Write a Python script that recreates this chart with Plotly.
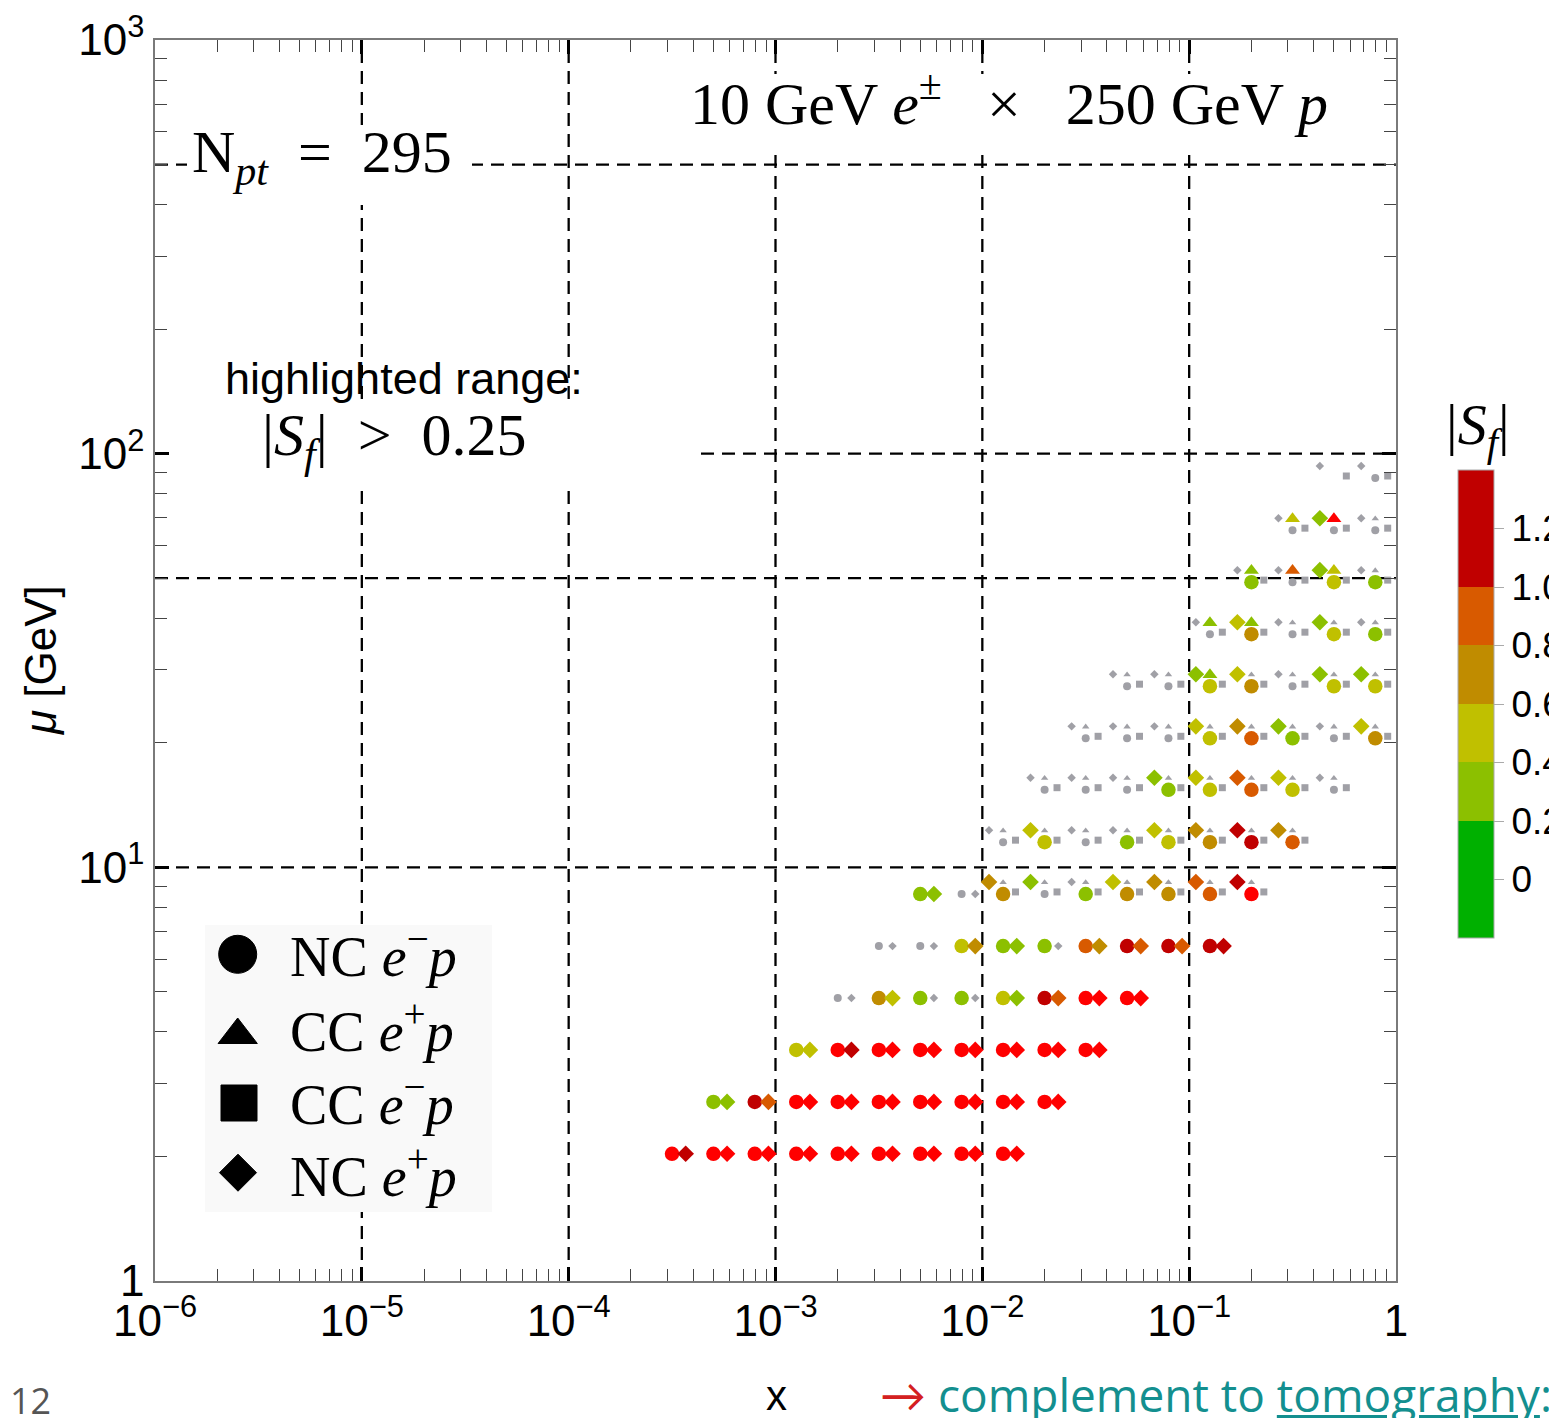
import numpy as np
import plotly.graph_objects as go

# ---------------- data (bin centres, |S_f|) ----------------
# NC e^- p  (circles)
nc_em_x = [
    3.16e-4, 5.01e-4, 7.94e-4, 1.26e-3, 2.00e-3, 3.16e-3, 5.01e-3, 7.94e-3, 1.26e-2,
    5.01e-4, 7.94e-4, 1.26e-3, 2.00e-3, 3.16e-3, 5.01e-3, 7.94e-3, 1.26e-2, 2.00e-2,
    1.26e-3, 2.00e-3, 3.16e-3, 5.01e-3, 7.94e-3, 1.26e-2, 2.00e-2, 3.16e-2,
    2.00e-3, 3.16e-3, 5.01e-3, 7.94e-3, 1.26e-2, 2.00e-2, 3.16e-2, 5.01e-2,
    3.16e-3, 5.01e-3, 7.94e-3, 1.26e-2, 2.00e-2, 3.16e-2, 5.01e-2, 7.94e-2, 0.126,
    5.01e-3, 7.94e-3, 1.26e-2, 2.00e-2, 3.16e-2, 5.01e-2, 7.94e-2, 0.126, 0.200,
    1.26e-2, 2.00e-2, 3.16e-2, 5.01e-2, 7.94e-2, 0.126, 0.200, 0.316,
    2.00e-2, 3.16e-2, 5.01e-2, 7.94e-2, 0.126, 0.200, 0.316, 0.501,
    3.16e-2, 5.01e-2, 7.94e-2, 0.126, 0.200, 0.316, 0.501, 0.794,
    5.01e-2, 7.94e-2, 0.126, 0.200, 0.316, 0.501, 0.794,
    0.126, 0.200, 0.316, 0.501, 0.794,
    0.200, 0.316, 0.501, 0.794,
    0.316, 0.501, 0.794,
    0.794,
]
nc_em_mu = (
    [2.03] * 9 + [2.71] * 9 + [3.62] * 8 + [4.83] * 8 + [6.45] * 9 + [8.62] * 9
    + [11.5] * 8 + [15.4] * 8 + [20.5] * 8 + [27.4] * 7 + [36.6] * 5 + [48.9] * 4
    + [65.3] * 3 + [87.3] * 1
)
nc_em_s = [
    1.6, 1.6, 1.6, 1.6, 1.6, 1.6, 1.6, 1.6, 1.6,
    0.32, 1.2, 1.6, 1.6, 1.6, 1.6, 1.6, 1.6, 1.6,
    0.5, 1.6, 1.6, 1.6, 1.6, 1.6, 1.6, 1.6,
    0.1, 0.7, 0.32, 0.32, 0.5, 1.2, 1.6, 1.6,
    0.1, 0.1, 0.5, 0.32, 0.32, 0.9, 1.2, 1.2, 1.2,
    0.32, 0.1, 0.7, 0.1, 0.32, 0.7, 0.7, 0.9, 1.6,
    0.1, 0.5, 0.1, 0.32, 0.5, 0.7, 1.2, 0.9,
    0.1, 0.1, 0.1, 0.32, 0.5, 0.9, 0.5, 0.1,
    0.1, 0.1, 0.1, 0.5, 0.9, 0.32, 0.1, 0.7,
    0.1, 0.1, 0.5, 0.7, 0.1, 0.5, 0.5,
    0.1, 0.7, 0.1, 0.5, 0.32,
    0.32, 0.1, 0.5, 0.32,
    0.1, 0.1, 0.1,
    0.1,
]

# NC e^+ p  (diamonds)
nc_ep_x = nc_em_x[:-1] + [0.501, 0.794]
nc_ep_mu = nc_em_mu[:-1] + [87.3, 87.3]
nc_ep_s = [
    1.2, 1.6, 1.6, 1.6, 1.6, 1.6, 1.6, 1.6, 1.6,
    0.32, 0.9, 1.6, 1.6, 1.6, 1.6, 1.6, 1.6, 1.6,
    0.5, 1.2, 1.6, 1.6, 1.6, 1.6, 1.6, 1.6,
    0.1, 0.5, 0.1, 0.1, 0.32, 0.9, 1.6, 1.6,
    0.1, 0.1, 0.7, 0.32, 0.1, 0.7, 0.9, 0.9, 1.2,
    0.32, 0.1, 0.7, 0.32, 0.1, 0.5, 0.7, 0.9, 1.2,
    0.1, 0.5, 0.1, 0.1, 0.5, 0.7, 1.2, 0.7,
    0.1, 0.1, 0.1, 0.32, 0.5, 0.9, 0.5, 0.1,
    0.1, 0.1, 0.1, 0.5, 0.7, 0.32, 0.1, 0.5,
    0.1, 0.1, 0.32, 0.5, 0.1, 0.32, 0.32,
    0.1, 0.5, 0.1, 0.32, 0.1,
    0.1, 0.1, 0.32, 0.1,
    0.1, 0.32, 0.1,
    0.1, 0.1,
]

# CC e^+ p  (triangles)
cc_ep_x = [
    1.26e-2, 2.00e-2, 3.16e-2, 5.01e-2, 7.94e-2, 0.126, 0.200,
    1.26e-2, 2.00e-2, 3.16e-2, 5.01e-2, 7.94e-2, 0.126, 0.200, 0.316,
    2.00e-2, 3.16e-2, 5.01e-2, 7.94e-2, 0.126, 0.200, 0.316, 0.501,
    3.16e-2, 5.01e-2, 7.94e-2, 0.126, 0.200, 0.316, 0.501, 0.794,
    5.01e-2, 7.94e-2, 0.126, 0.200, 0.316, 0.501, 0.794,
    0.126, 0.200, 0.316, 0.501, 0.794,
    0.200, 0.316, 0.501, 0.794,
    0.316, 0.501, 0.794,
]
cc_ep_mu = (
    [8.62] * 7 + [11.5] * 8 + [15.4] * 8 + [20.5] * 8 + [27.4] * 7
    + [36.6] * 5 + [48.9] * 4 + [65.3] * 3
)
cc_ep_s = [
    0.1, 0.1, 0.1, 0.1, 0.1, 0.1, 0.1,
    0.1, 0.1, 0.1, 0.1, 0.1, 0.1, 0.1, 0.1,
    0.1, 0.1, 0.1, 0.1, 0.1, 0.1, 0.1, 0.1,
    0.1, 0.1, 0.1, 0.1, 0.1, 0.1, 0.1, 0.1,
    0.1, 0.1, 0.32, 0.1, 0.1, 0.1, 0.1,
    0.32, 0.32, 0.1, 0.1, 0.1,
    0.32, 0.9, 0.5, 0.1,
    0.5, 1.6, 0.1,
]

# CC e^- p  (squares)
cc_em_x = cc_ep_x + [0.501, 0.794]
cc_em_mu = cc_ep_mu + [87.3, 87.3]
cc_em_s = [0.1] * 52

x_tick_labels = ["10<sup>−6</sup>", "10<sup>−5</sup>", "10<sup>−4</sup>",
                 "10<sup>−3</sup>", "10<sup>−2</sup>", "10<sup>−1</sup>", "1"]
y_tick_labels = ["1", "10<sup>1</sup>", "10<sup>2</sup>", "10<sup>3</sup>"]
cbar_vals = [0, 0.2, 0.4, 0.6, 0.8, 1.0, 1.2]
cbar_text = ["0", "0.2", "0.4", "0.6", "0.8", "1.0", "1.2"]

# ---------------- styling ----------------
SERIF = "Liberation Serif, DejaVu Serif, serif"
SANS = "Liberation Sans, Arial, sans-serif"
SLIDE = "Open Sans, Lato, sans-serif"
GRAY = "#a0a0a6"
OVER = "#ff0000"
THRESH, SMIN, SMAX = 0.25, -0.2, 1.4
CS = [[0, "#00b000"], [0.25, "#00b000"], [0.25, "#8cc000"], [0.375, "#8cc000"],
      [0.375, "#c0c000"], [0.5, "#c0c000"], [0.5, "#c08c00"], [0.625, "#c08c00"],
      [0.625, "#d85a00"], [0.75, "#d85a00"], [0.75, "#c00000"], [1, "#c00000"]]

PAGE_OFF = 8                      # default body margin of the html page
L, R, T, B = 155, 1396, 40, 1281  # plot area in window pixels
W, H = R - L, B - T
def px(v): return (v - L) / W
def py(v): return (B - v) / H
def dx(v): return 10 ** (-6 + 6 * (v - L) / W)   # window px -> data x
def dy(v): return 10 ** (3 * (B - v) / H)        # window px -> data mu

# display offsets of the markers around a bin centre (in decades): (pair layout, cluster layout)
OFFSETS = {
    "nc_em": ((0.0, 0.0), (0.0, 0.0)),
    "nc_ep": ((0.066, 0.0), (-0.068, 0.029)),
    "cc_ep": ((0.0, 0.028), (0.0, 0.028)),
    "cc_em": ((0.06, 0.005), (0.06, 0.005)),
}
cc_keys = set()
for xs, ms in ((cc_ep_x, cc_ep_mu), (cc_em_x, cc_em_mu)):
    for a, b in zip(xs, ms):
        cc_keys.add((round(np.log10(a), 2), round(np.log10(b), 2)))

def place(key, xs, ms):
    ox, om = [], []
    for a, b in zip(xs, ms):
        cl = (round(np.log10(a), 2), round(np.log10(b), 2)) in cc_keys
        ddx, ddm = OFFSETS[key][1 if cl else 0]
        ox.append(a * 10 ** ddx)
        om.append(b * 10 ** ddm)
    return np.array(ox), np.array(om)

procs = [  # key, symbol, x, mu, S, gray size, highlighted size
    ("cc_ep", "triangle-up", cc_ep_x, cc_ep_mu, cc_ep_s, 6.5, 13),
    ("cc_em", "square", cc_em_x, cc_em_mu, cc_em_s, 7, 12),
    ("nc_em", "circle", nc_em_x, nc_em_mu, nc_em_s, 8, 14.5),
    ("nc_ep", "diamond", nc_ep_x, nc_ep_mu, nc_ep_s, 6.5, 12.8),
]

fig = go.Figure()
placed = {}
for key, sym, xs, ms, ss, gs, hs in procs:
    ox, om = place(key, xs, ms)
    s = np.abs(np.array(ss))
    placed[key] = (ox, om, s)
    g = s <= THRESH
    fig.add_trace(go.Scatter(x=ox[g], y=om[g], mode="markers", showlegend=False,
                             hoverinfo="skip",
                             marker=dict(symbol=sym, size=gs, color=GRAY, line_width=0)))

for key, sym, xs, ms, ss, gs, hs in procs:
    ox, om, s = placed[key]
    h = (s > THRESH) & (s <= SMAX)
    fig.add_trace(go.Scatter(
        x=ox[h], y=om[h], mode="markers", showlegend=False,
        marker=dict(symbol=sym, size=hs, color=s[h], colorscale=CS, cmin=SMIN, cmax=SMAX,
                    line_width=0, showscale=(key == "nc_em"),
                    colorbar=dict(x=px(1458), xanchor="left", y=py(704), yanchor="middle",
                                  len=468, lenmode="pixels", thickness=36,
                                  thicknessmode="pixels", xpad=0, ypad=0,
                                  outlinewidth=1, outlinecolor="#aaaaaa",
                                  tickmode="array", tickvals=cbar_vals, ticktext=cbar_text,
                                  ticks="outside", ticklen=10, tickcolor="#aaaaaa",
                                  tickfont=dict(family=SANS, size=37, color="black")))))
    o = s > SMAX
    fig.add_trace(go.Scatter(x=ox[o], y=om[o], mode="markers", showlegend=False,
                             marker=dict(symbol=sym, size=hs, color=OVER, line_width=0)))

# legend glyphs on an overlay axis (fractions of plot area)
leg_syms = ["circle", "triangle-up", "square", "diamond"]
leg_px = [(237.7, 954.3), (237.7, 1035), (239, 1103), (238, 1172.7)]
fig.add_trace(go.Scatter(x=[px(a) for a, b in leg_px], y=[py(b) for a, b in leg_px],
                         xaxis="x2", yaxis="y2", mode="markers", showlegend=False,
                         hoverinfo="skip", opacity=1,
                         marker=dict(symbol=leg_syms, size=[38, 34, 36, 28.5], opacity=1,
                                     color="#000000",
                                     line=dict(width=1, color="#000000"))))

# ticks
maj_x = [10.0 ** k for k in range(-6, 1)]
min_x = [m * 10.0 ** k for k in range(-6, 0) for m in range(2, 10)]
maj_y = [10.0 ** k for k in range(0, 4)]
min_y = [m * 10.0 ** k for k in range(0, 3) for m in range(2, 10)]

axis_common = dict(type="log", showgrid=False, zeroline=False, showline=True,
                   linecolor="#7a7a7a", linewidth=1.5, mirror="ticks", ticks="inside",
                   ticklen=14, tickwidth=2.5, tickcolor="black",
                   tickfont=dict(family=SANS, size=44, color="black"))
FIG_W, FIG_H = 1557 - PAGE_OFF, 1418 - PAGE_OFF
fig.update_layout(
    width=FIG_W, height=FIG_H,
    margin=dict(l=L - PAGE_OFF, r=FIG_W + PAGE_OFF - R, t=T - PAGE_OFF,
                b=FIG_H + PAGE_OFF - B, autoexpand=False),
    paper_bgcolor="white", plot_bgcolor="white",
    xaxis=dict(range=[-6, 0], tickmode="array", tickvals=maj_x, ticktext=x_tick_labels,
               minor=dict(tickmode="array", tickvals=min_x, ticks="inside", ticklen=12,
                          tickwidth=1, tickcolor="#444"),
               **axis_common),
    yaxis=dict(range=[0, 3], tickmode="array", tickvals=maj_y, ticktext=y_tick_labels,
               minor=dict(tickmode="array", tickvals=min_y, ticks="inside", ticklen=12,
                          tickwidth=1, tickcolor="#444"),
               **axis_common),
    xaxis2=dict(overlaying="x", anchor="y2", range=[0, 1], visible=False, fixedrange=True),
    yaxis2=dict(overlaying="y", anchor="x2", range=[0, 1], visible=False, fixedrange=True),
)

# dashed reference lines
shapes = []
DASH = dict(color="black", width=2.3, dash="13px,8px")
for xv in [1e-5, 1e-4, 1e-3, 1e-2, 1e-1]:
    shapes.append(dict(type="line", xref="x", yref="y", x0=xv, x1=xv, y0=1, y1=1000,
                       line=DASH, layer="below"))
for yv in [10, 50, 100, 500]:
    shapes.append(dict(type="line", xref="x", yref="y", x0=1e-6, x1=1, y0=yv, y1=yv,
                       line=DASH, layer="below"))
# white boxes behind texts and the legend panel (same layer as the dashed lines)
for (x0, x1, y0, y1, col) in [(187, 472, 125, 205, "white"), (685, 1360, 74, 150, "white"),
                              (156.5, 695, 403, 483, "white"), (205, 492, 925, 1212, "#f9f9f9")]:
    shapes.append(dict(type="rect", xref="x", yref="y", x0=dx(x0), x1=dx(x1),
                       y0=dy(y1), y1=dy(y0), fillcolor=col, line_width=0, layer="below"))
fig.update_layout(shapes=shapes)

ann = []
def add_text(text, x, y, family, size, xanchor="left", color="black", angle=0):
    ann.append(dict(text=text, x=px(x), y=py(y), xref="paper", yref="paper",
                    xanchor=xanchor, yanchor="middle", showarrow=False, textangle=angle,
                    font=dict(family=family, size=size, color=color)))

add_text("10 GeV <i>e</i><sup>±</sup>\u2002 ×\u2002 250 GeV <i>p</i>", 688, 100, SERIF, 60)
add_text("N<sub><i>pt</i></sub>\u2002=\u2002295", 190, 156, SERIF, 60)
add_text("highlighted range:", 223, 378, SANS, 45)
add_text("|<i>S<sub>f</sub></i>|\u2002>\u20020.25", 260, 440, SERIF, 60)
leg_txt = ["NC\u2005<i>e</i><sup>−</sup><i>p</i>", "CC\u2005<i>e</i><sup>+</sup><i>p</i>",
           "CC\u2005<i>e</i><sup>−</sup><i>p</i>", "NC\u2005<i>e</i><sup>+</sup><i>p</i>"]
for t, yy in zip(leg_txt, [952, 1027, 1100, 1172]):
    add_text(t, 288, yy, SERIF, 56)
add_text("|<i>S<sub>f</sub></i>|", 1478, 428, SERIF, 58, xanchor="center")
add_text("<i>μ</i> [GeV]", 40, 660, SANS, 44, xanchor="center", angle=-90)
add_text("x", 776, 1395, SANS, 42, xanchor="center")
add_text("12", 30, 1400, SLIDE, 36, xanchor="center", color="#555555")
add_text("<span style='color:#d42020'>→</span> complement to <u>tomography</u>:",
         878, 1394, SLIDE, 46, color="#138f8f")
fig.update_layout(annotations=ann)

fig.write_html("out.html")
